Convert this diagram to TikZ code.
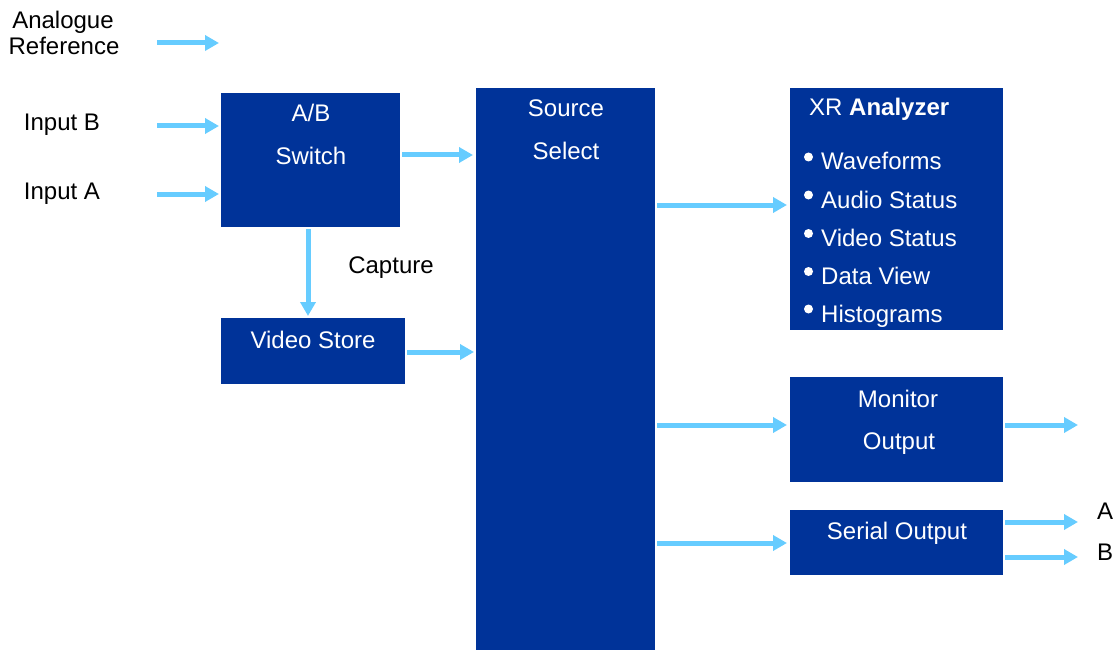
\documentclass[tikz,border=0pt]{standalone}
\usepackage{fontspec}
\setmainfont{Liberation Sans}
\usetikzlibrary{arrows.meta}
\definecolor{boxblue}{HTML}{003399}
\definecolor{arrblue}{HTML}{66CCFF}
\begin{document}
\begin{tikzpicture}[x=1pt,y=-1pt,
  blk/.style={fill=boxblue,draw=none,inner sep=0,anchor=north west},
  arr/.style={draw=arrblue,line width=5pt,-{Triangle[length=14pt,width=15pt]}},
  txt/.style={font=\fontsize{24}{28}\selectfont,inner sep=0,anchor=base},
  wt/.style={txt,text=white},
  bul/.style={circle,fill=white,inner sep=0,minimum size=9pt}]
\useasboundingbox (0,0) rectangle (1114,650);
% boxes
\node[blk,minimum width=179pt,minimum height=134pt] (ab) at (221,93) {};
\node[blk,minimum width=179pt,minimum height=562pt] (src) at (476,88) {};
\node[blk,minimum width=213pt,minimum height=242pt] (xr) at (790,88) {};
\node[blk,minimum width=184pt,minimum height=66pt] (vs) at (221,318) {};
\node[blk,minimum width=213pt,minimum height=105pt] (mon) at (790,377) {};
\node[blk,minimum width=213pt,minimum height=65pt] (ser) at (790,510) {};
% box texts
\node[wt] (tab1) at (311,121.5) {A/B};
\node[wt] (tab2) at (311,164.5) {Switch};
\node[wt] (tsrc1) at (566,116.5) {Source};
\node[wt] (tsrc2) at (566,159.5) {Select};
\node[wt,anchor=base west] (txr) at (809,116) {XR \textbf{Analyzer}};
\foreach \t/\b [count=\i] in {Waveforms/170,Audio Status/208,Video Status/246.5,Data View/284.5,Histograms/322}{
  \node[wt,anchor=base west] (it\i) at (821,\b) {\t};
  \node[bul] (bu\i) at (808.5,\b-13) {};
}
\node[wt] (tvs) at (313,348) {Video Store};
\node[wt] (tmon1) at (898,407) {Monitor};
\node[wt] (tmon2) at (899,449) {Output};
\node[wt] (tser) at (897,539) {Serial Output};
% outside labels
\node[txt] (lan1) at (63,28.5) {Analogue};
\node[txt] (lan2) at (64,54.5) {Reference};
\node[txt] (lib) at (62,130.5) {Input B};
\node[txt] (lia) at (62,199.5) {Input A};
\node[txt] (lcap) at (391,273) {Capture};
\node[txt] (la) at (1105,519) {A};
\node[txt] (lb) at (1105,560) {B};
% free ends
\coordinate (r0) at (157,43);
\coordinate (r1) at (219,43);
\coordinate (ib) at (157,126);
\coordinate (ia) at (157,194);
\coordinate (mo) at (1078,425);
\coordinate (oa) at (1078,522);
\coordinate (ob) at (1078,557);
% arrows
\draw[arr] (r0) -- (r1);
\draw[arr,shorten >=2pt] (ib) -- (ab.west |- ib);
\draw[arr,shorten >=2pt] (ia) -- (ab.west |- ia);
\draw[arr,shorten <=2pt,shorten >=3pt] (ab.east |- 0,155) -- (src.west |- 0,155);
\draw[arr,shorten <=2pt,shorten >=2pt] (ab.south -| 308,0) -- (vs.north -| 308,0);
\draw[arr,shorten <=2pt,shorten >=2pt] (vs.east |- 0,352) -- (src.west |- 0,352);
\draw[arr,shorten <=2pt,shorten >=3pt] (src.east |- 0,205) -- (xr.west |- 0,205);
\draw[arr,shorten <=2pt,shorten >=3pt] (src.east |- 0,425) -- (mon.west |- 0,425);
\draw[arr,shorten <=2pt,shorten >=3pt] (src.east |- 0,543) -- (ser.west |- 0,543);
\draw[arr,shorten <=2pt] (mon.east |- mo) -- (mo);
\draw[arr,shorten <=2pt] (ser.east |- oa) -- (oa);
\draw[arr,shorten <=2pt] (ser.east |- ob) -- (ob);
\end{tikzpicture}
\end{document}
